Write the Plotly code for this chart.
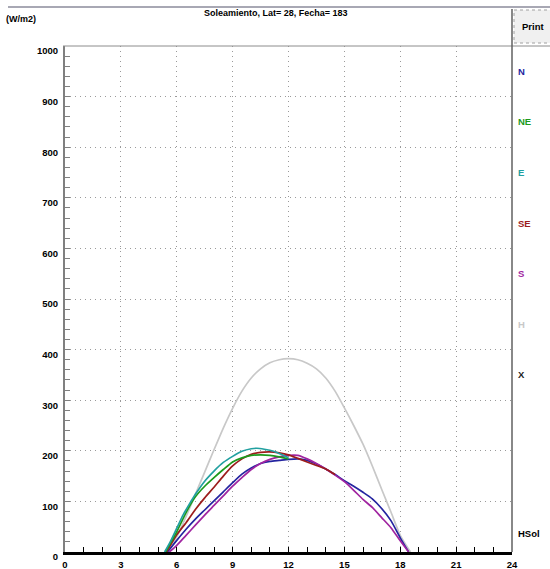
import plotly.graph_objects as go

# ---- data ----
h_H = [5.35, 6.0, 6.5, 7.0, 7.5, 8.0, 8.5, 9.0, 9.5, 10.0, 10.5, 11.0, 11.5, 12.0,
       12.5, 13.0, 13.5, 14.0, 14.5, 15.0, 15.5, 16.0, 16.5, 17.0, 17.5, 18.0, 18.55]
v_H = [0, 30, 70, 114, 158, 202, 245, 284, 318, 344, 362, 374, 380, 382,
       380, 373, 362, 344, 318, 285, 250, 213, 170, 124, 79, 33, 0]

h_N = [5.5, 6.0, 6.5, 7.0, 7.5, 8.0, 8.5, 9.0, 9.5, 10.0, 10.5, 11.0, 11.5, 12.0,
       12.5, 13.0, 13.5, 14.0, 14.5, 15.0, 15.5, 16.0, 16.5, 17.0, 17.5, 18.0, 18.45]
v_N = [0, 23, 45, 65, 83, 101, 119, 137, 154, 166, 175, 179, 181, 183,
       184, 181, 174, 164, 153, 141, 130, 118, 105, 86, 62, 28, 0]

h_S = [5.6, 6.0, 6.5, 7.0, 7.5, 8.0, 8.5, 9.0, 9.5, 10.0, 10.5, 11.0, 11.5, 12.0,
       12.5, 13.0, 13.5, 14.0, 14.5, 15.0, 15.5, 16.0, 16.5, 17.0, 17.5, 18.0, 18.45]
v_S = [0, 13, 33, 53, 73, 92, 111, 130, 147, 163, 175, 183, 188, 191,
       191, 184, 175, 164, 152, 139, 122, 104, 88, 68, 48, 22, 0]

h_SE = [5.45, 6.0, 6.5, 7.0, 7.5, 8.0, 8.5, 9.0, 9.5, 10.0, 10.5, 11.0, 11.5, 12.0,
        12.5, 13.0, 13.5, 14.0, 14.5]
v_SE = [0, 34, 58, 84, 107, 128, 150, 170, 184, 193, 197, 198, 196, 192,
        185, 178, 171, 164, 153]

h_NE = [5.4, 5.7, 6.0, 6.5, 7.0, 7.5, 8.0, 8.5, 9.0, 9.5, 10.0, 10.5, 11.0, 11.5, 12.0]
v_NE = [0, 20, 40, 78, 109, 130, 147, 163, 178, 186, 191, 192, 191, 188, 184]

h_E = [5.35, 5.65, 6.0, 6.35, 6.7, 7.0, 7.5, 8.0, 8.5, 9.0, 9.5, 10.0, 10.3, 10.7,
       11.2, 11.6, 12.0]
v_E = [0, 20, 47, 74, 96, 114, 140, 160, 177, 189, 199, 204, 205, 203,
       199, 193, 186]

x_ticks = [0, 3, 6, 9, 12, 15, 18, 21, 24]
y_ticks = [0, 100, 200, 300, 400, 500, 600, 700, 800, 900, 1000]
legend_names = ["N", "NE", "E", "SE", "S", "H", "X"]
legend_vals = [950, 850, 750, 650, 550, 450, 350]

# ---- styling ----
W, H = 550, 569
L, R, T, B = 65, 38, 46, 17
PW, PH = W - L - R, H - T - B


def xp(px):
    return (px - L) / PW


def yp(py):
    return (H - B - py) / PH


C_N, C_NE, C_E, C_SE, C_S, C_H, C_X = (
    "#2424a0", "#1c9a1c", "#22a0a0", "#9c1c1c", "#a024a0", "#c8c8c8", "#202020")

FONT = "Liberation Sans"

fig = go.Figure()
for hh, vv, col in [(h_H, v_H, C_H), (h_N, v_N, C_N), (h_S, v_S, C_S),
                    (h_SE, v_SE, C_SE), (h_NE, v_NE, C_NE), (h_E, v_E, C_E)]:
    fig.add_trace(go.Scatter(x=hh, y=vv, mode="lines",
                             line=dict(color=col, width=1.7, shape="spline", smoothing=0.6),
                             showlegend=False, hoverinfo="skip"))

fig.update_layout(
    width=W, height=H,
    margin=dict(l=L, r=R, t=T, b=B, pad=0, autoexpand=False),
    paper_bgcolor="white", plot_bgcolor="white",
    font=dict(family=FONT, size=9, color="black", weight="bold"),
    showlegend=False,
)
fig.update_xaxes(
    range=[0, 24], tickvals=x_ticks, ticktext=[str(v) for v in x_ticks],
    showgrid=True, gridcolor="#9a9a9a", griddash="1px,4px", gridwidth=1,
    showline=True, linecolor="black", linewidth=3,
    ticks="inside", ticklen=5, tickcolor="black", tickwidth=1,
    minor=dict(dtick=1, tick0=0, ticks="inside", ticklen=5, tickcolor="black", showgrid=False),
    zeroline=False, fixedrange=True, automargin=False, ticklabelstandoff=2,
    tickfont=dict(family=FONT, size=9.5, color="black", weight="bold"),
)
fig.update_yaxes(
    range=[0, 1000], tickvals=y_ticks, ticktext=[str(v) for v in y_ticks],
    showgrid=True, gridcolor="#9a9a9a", griddash="1px,4px", gridwidth=1,
    showline=True, linecolor="#808080", linewidth=2,
    ticks="inside", ticklen=5, tickcolor="#808080", tickwidth=1,
    minor=dict(dtick=20, tick0=0, ticks="inside", ticklen=5, tickcolor="#808080", showgrid=False),
    zeroline=False, fixedrange=True, automargin=False, ticklabelshift=5, ticklabelstandoff=3,
    tickfont=dict(family=FONT, size=9.5, color="black", weight="bold"),
)

shapes = [
    # window strip at top
    dict(type="line", xref="paper", yref="paper", x0=xp(8), x1=xp(550), y0=yp(7), y1=yp(7),
         line=dict(color="#a8a8b4", width=2)),
    # top frame line
    dict(type="line", xref="paper", yref="paper", x0=xp(63), x1=xp(550), y0=1, y1=1,
         line=dict(color="#8c8c8c", width=1)),
    # right frame line
    dict(type="line", xref="paper", yref="paper", x0=1, x1=1, y0=0, y1=yp(9),
         line=dict(color="#606060", width=1.5)),
    # Print button
    dict(type="rect", xref="paper", yref="paper", x0=xp(514), x1=xp(553), y0=yp(43), y1=yp(10),
         fillcolor="#f0f0f0", line=dict(color="#a0a0a0", width=1, dash="dot")),
]
fig.update_layout(shapes=shapes)

anns = [
    dict(text="Soleamiento, Lat= 28, Fecha= 183", xref="paper", yref="paper",
         x=xp(276), y=yp(13), xanchor="center", yanchor="middle", showarrow=False,
         font=dict(family=FONT, size=9, color="black", weight="bold")),
    dict(text="(W/m2)", xref="paper", yref="paper", x=xp(4), y=yp(19),
         xanchor="left", yanchor="middle", showarrow=False,
         font=dict(family=FONT, size=9, color="black", weight="bold")),
    dict(text="Print", xref="paper", yref="paper", x=xp(533), y=yp(27),
         xanchor="center", yanchor="middle", showarrow=False,
         font=dict(family=FONT, size=9.5, color="black", weight="bold")),
    dict(text="HSol", xref="paper", yref="y", x=xp(516), y=37,
         xanchor="left", yanchor="middle", showarrow=False,
         font=dict(family=FONT, size=9.5, color="black", weight="bold")),
]
for name, val, col in zip(legend_names, legend_vals, [C_N, C_NE, C_E, C_SE, C_S, C_H, C_X]):
    anns.append(dict(text=name, xref="paper", yref="y", x=xp(516), y=val,
                     xanchor="left", yanchor="middle", showarrow=False,
                     font=dict(family=FONT, size=9.5, color=col, weight="bold")))
fig.update_layout(annotations=anns)

fig.write_html("out.html", config=dict(displayModeBar=False),
               post_script="document.body.style.margin='0';document.body.style.overflow='hidden';")
